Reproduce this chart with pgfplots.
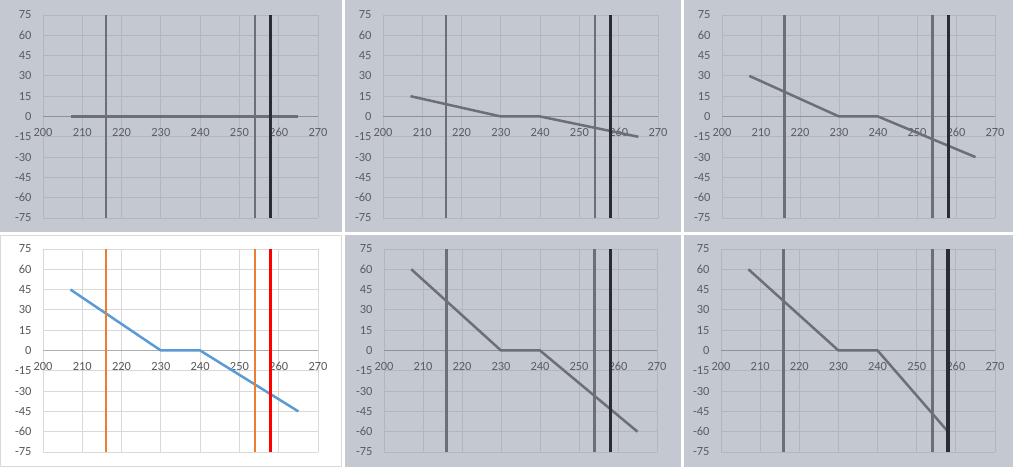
\documentclass[border=0pt]{standalone}
\usepackage{fontspec}
\setmainfont{Carlito}
\usepackage{pgfplots}
\pgfplotsset{compat=1.18}

\definecolor{panelbg}{HTML}{C4C8D0}
\definecolor{gridg}{HTML}{B2B6BE}
\definecolor{axisg}{HTML}{8E9198}
\definecolor{lineg}{HTML}{6C6F76}
\definecolor{darkv}{HTML}{2A2C31}
\definecolor{labg}{HTML}{5A5D63}
\definecolor{xlblue}{HTML}{5B9BD5}
\definecolor{xlorange}{HTML}{ED7D31}
\definecolor{xlred}{HTML}{FF0000}
\definecolor{gridw}{HTML}{D9D9D9}

\pgfplotsset{
  payoff/.style={
    scale only axis, width=275bp, height=203bp,
    anchor=south west,
    xmin=200, xmax=270, ymin=-75, ymax=75,
    xtick={200,210,...,270}, ytick={-75,-60,...,75},
    axis x line=middle, axis y line=left,
    x axis line style={-, draw=axisg, line width=1.2bp},
    y axis line style={draw=none},
    hide obscured x ticks=false, hide obscured y ticks=false,
    major tick length=0pt,
    grid=major,
    major grid style={draw=gridg, line width=0.8bp},
    ticklabel style={font=\fontsize{12.5}{14}\selectfont, text=labg},
    xticklabel style={yshift=-8bp},
    yticklabel style={xshift=-8bp},
    /pgf/number format/assume math mode=true,
    clip=false,
  },
  greyp/.style={payoff},
  whitep/.style={payoff,
    major grid style={draw=gridw, line width=0.8bp},
    x axis line style={-, draw=gridw!80!black, line width=1bp},
    ticklabel style={text=black!65},
  },
  vthin/.style={lineg, line width=2.6bp},
  vthick/.style={darkv, line width=3.2bp},
  payline/.style={lineg, line width=2.5bp},
}

\begin{document}
\begin{tikzpicture}[x=1bp,y=1bp]
\path[use as bounding box] (0,0) rectangle (1013,467);
\fill[white] (0,0) rectangle (1013,467);
% panel backgrounds
\fill[panelbg] (0,235) rectangle (342,467);
\fill[panelbg] (345,235) rectangle (681,467);
\fill[panelbg] (684,235) rectangle (1013,467);
\draw[gridw] (0.5,0.5) rectangle (341.5,231.5);
\fill[panelbg] (345,0) rectangle (681,232);
\fill[panelbg] (684,0) rectangle (1013,232);

% top left
\begin{axis}[greyp, at={(43bp,249bp)}]
\addplot[payline] coordinates {(207,0) (230,0) (240,0) (265,0)};
\addplot[vthin] coordinates {(216,-75) (216,75)};
\addplot[vthin] coordinates {(254,-75) (254,75)};
\addplot[vthick] coordinates {(258,-75) (258,75)};
\end{axis}

% top middle
\begin{axis}[greyp, at={(383bp,249bp)}]
\addplot[payline] coordinates {(207,15) (230,0) (240,0) (265,-15)};
\addplot[vthin] coordinates {(216,-75) (216,75)};
\addplot[vthin] coordinates {(254,-75) (254,75)};
\addplot[vthick] coordinates {(258,-75) (258,75)};
\end{axis}

% top right
\begin{axis}[greyp, at={(722bp,249bp)}, width=273bp]
\addplot[payline] coordinates {(207,30) (230,0) (240,0) (265,-30)};
\addplot[vthin] coordinates {(216,-75) (216,75)};
\addplot[vthin] coordinates {(254,-75) (254,75)};
\addplot[vthick] coordinates {(258,-75) (258,75)};
\end{axis}

% bottom left (highlighted)
\begin{axis}[whitep, at={(43bp,15bp)}]
\addplot[xlblue, line width=2.5bp] coordinates {(207,45) (230,0) (240,0) (265,-45)};
\addplot[xlorange, line width=2.6bp] coordinates {(216,-75) (216,75)};
\addplot[xlorange, line width=2.6bp] coordinates {(254,-75) (254,75)};
\addplot[xlred, line width=3.2bp] coordinates {(258,-75) (258,75)};
\end{axis}

% bottom middle
\begin{axis}[greyp, at={(384bp,15bp)}, width=273bp]
\addplot[payline] coordinates {(207,60) (230,0) (240,0) (265,-60)};
\addplot[vthin] coordinates {(216,-75) (216,75)};
\addplot[vthin] coordinates {(254,-75) (254,75)};
\addplot[vthick] coordinates {(258,-75) (258,75)};
\end{axis}

% bottom right
\begin{axis}[greyp, at={(721bp,15bp)}, width=274bp]
\addplot[payline] coordinates {(207,60) (230,0) (240,0) (258,-60)};
\addplot[vthin] coordinates {(216,-75) (216,75)};
\addplot[vthin] coordinates {(254,-75) (254,75)};
\addplot[vthick] coordinates {(258,-75) (258,75)};
\end{axis}
\end{tikzpicture}
\end{document}
